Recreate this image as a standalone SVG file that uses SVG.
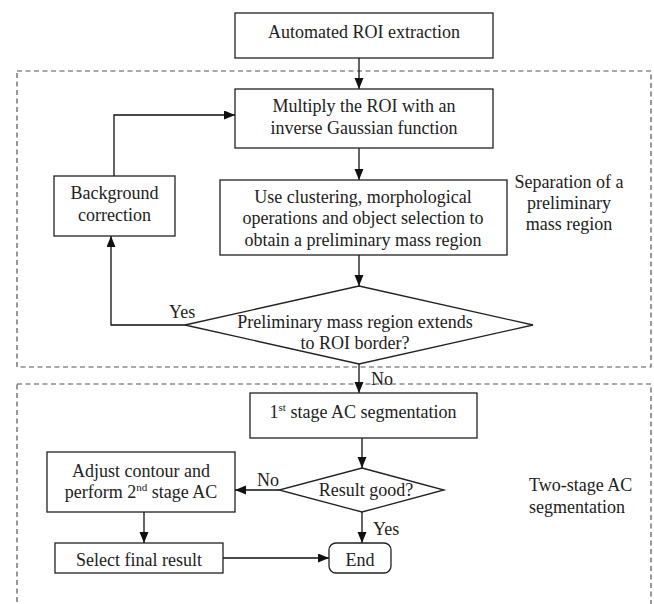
<svg xmlns="http://www.w3.org/2000/svg" width="654" height="604" viewBox="0 0 654 604">
<defs>
<marker id="ah" markerUnits="userSpaceOnUse" markerWidth="12" markerHeight="10" refX="11" refY="4.5" orient="auto">
<path d="M0,0 L11,4.5 L0,9 Z" fill="#111"/>
</marker>
<style>
text{font-family:"Liberation Serif","Times New Roman",serif;font-size:18px;fill:#222;}
.c{text-anchor:middle;}
.box{fill:#fff;stroke:#222;stroke-width:1.3;}
.ln{fill:none;stroke:#111;stroke-width:1.3;}
.dash{fill:none;stroke:#555;stroke-width:1.2;stroke-dasharray:5,3.5;}
.sup{font-size:11px;}
</style>
</defs>
<rect width="654" height="604" fill="#fff"/>
<g id="regions">
<rect class="dash" x="17" y="71" width="634" height="296"/>
<rect class="dash" x="17" y="384" width="634" height="240"/>
<text x="569" y="188" class="c">Separation of a</text>
<text x="569" y="209" class="c">preliminary</text>
<text x="569" y="230" class="c">mass region</text>
<text x="529" y="491">Two-stage AC</text>
<text x="529" y="513">segmentation</text>
</g>
<g id="connectors">
<line class="ln" x1="359" y1="58" x2="359" y2="89" marker-end="url(#ah)"/>
<line class="ln" x1="359" y1="148" x2="359" y2="180" marker-end="url(#ah)"/>
<line class="ln" x1="359" y1="255" x2="359" y2="286" marker-end="url(#ah)"/>
<polyline class="ln" points="114,176 114,115 235,115" marker-end="url(#ah)"/>
<polyline class="ln" points="185,325 111,325 111,236" marker-end="url(#ah)"/>
<line class="ln" x1="359" y1="364" x2="359" y2="393" marker-end="url(#ah)"/>
<line class="ln" x1="362" y1="438" x2="362" y2="468" marker-end="url(#ah)"/>
<line class="ln" x1="279" y1="490" x2="235" y2="490" marker-end="url(#ah)"/>
<line class="ln" x1="144" y1="512" x2="144" y2="543" marker-end="url(#ah)"/>
<line class="ln" x1="223" y1="558" x2="329" y2="558" marker-end="url(#ah)"/>
<line class="ln" x1="362" y1="512" x2="362" y2="543" marker-end="url(#ah)"/>
<text x="169" y="318">Yes</text>
<text x="371" y="385">No</text>
<text x="257" y="486">No</text>
<text x="373" y="535">Yes</text>
</g>
<g id="n_auto">
<rect class="box" x="235" y="13" width="258" height="45"/>
<text x="364" y="38" class="c">Automated ROI extraction</text>
</g>
<g id="n_multiply">
<rect class="box" x="235" y="89" width="258" height="59"/>
<text x="364" y="112" class="c">Multiply the ROI with an</text>
<text x="364" y="134" class="c">inverse Gaussian function</text>
</g>
<g id="n_background">
<rect class="box" x="54" y="176" width="121" height="60"/>
<text x="114.5" y="199" class="c">Background</text>
<text x="114.5" y="221" class="c">correction</text>
</g>
<g id="n_cluster">
<rect class="box" x="220" y="180" width="287" height="75"/>
<text x="363" y="203" class="c">Use clustering, morphological</text>
<text x="363" y="224" class="c">operations and object selection to</text>
<text x="363" y="246" class="c">obtain a preliminary mass region</text>
</g>
<g id="n_decision1">
<polygon class="box" points="359,286 533,325 359,364 185,325"/>
<text x="355" y="328" class="c">Preliminary mass region extends</text>
<text x="355" y="349" class="c">to ROI border?</text>
</g>
<g id="n_stage1">
<rect class="box" x="250" y="393" width="227" height="45"/>
<text x="363" y="418" class="c">1<tspan class="sup" dy="-7">st</tspan><tspan dy="7"> stage AC segmentation</tspan></text>
</g>
<g id="n_decision2">
<polygon class="box" points="362,468 444,490 362,512 279,490"/>
<text x="366" y="496" class="c">Result good?</text>
</g>
<g id="n_adjust">
<rect class="box" x="47" y="452" width="188" height="60"/>
<text x="141" y="477" class="c">Adjust contour and</text>
<text x="141" y="498" class="c">perform 2<tspan class="sup" dy="-7">nd</tspan><tspan dy="7"> stage AC</tspan></text>
</g>
<g id="n_select">
<rect class="box" x="55" y="543" width="168" height="30"/>
<text x="139" y="566" class="c">Select final result</text>
</g>
<g id="n_end">
<rect class="box" x="329" y="543" width="62" height="30" rx="7"/>
<text x="360" y="566" class="c">End</text>
</g>
</svg>
